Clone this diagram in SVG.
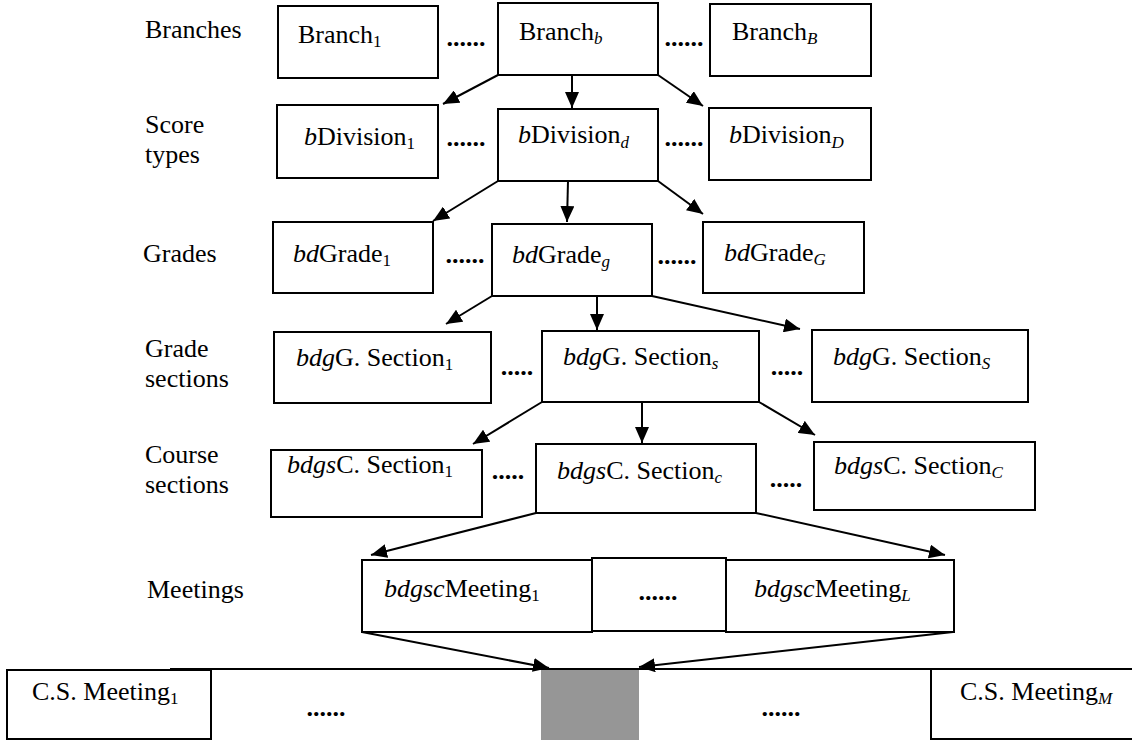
<svg xmlns="http://www.w3.org/2000/svg" width="1132" height="740" viewBox="0 0 1132 740" font-family="'Liberation Serif', Tinos, 'DejaVu Serif', serif">
<style>
text{font-family:"Liberation Serif",Tinos,"DejaVu Serif",serif;font-size:26px;fill:#000}
.sub{font-size:17px}
.i{font-style:italic}
.dots{font-weight:bold}
.box{fill:#fff;stroke:#000;stroke-width:2}
.con line{stroke:#000;stroke-width:2;marker-end:url(#ah)}
</style>
<defs>
<marker id="ah" markerUnits="userSpaceOnUse" markerWidth="16" markerHeight="14" refX="16" refY="7" orient="auto">
<path d="M0,0 L16,7 L0,14 z" fill="#000"/>
</marker>
</defs>
<rect width="1132" height="740" fill="#fff"/>
<g id="labels">
<text x="145" y="38">Branches</text>
<text x="145" y="133">Score</text>
<text x="145" y="163">types</text>
<text x="143" y="262">Grades</text>
<text x="145" y="357">Grade</text>
<text x="145" y="387">sections</text>
<text x="145" y="463">Course</text>
<text x="145" y="493">sections</text>
<text x="147" y="598">Meetings</text>
</g>
<g id="branch1"><rect class="box" x="278" y="6" width="160" height="72"/><text x="298" y="43">Branch<tspan class="sub" dy="4">1</tspan></text></g>
<g id="branchb"><rect class="box" x="498" y="3" width="160" height="72"/><text x="519" y="40">Branch<tspan class="sub i" dy="4">b</tspan></text></g>
<g id="branchB"><rect class="box" x="710" y="4" width="161" height="72"/><text x="732" y="40">Branch<tspan class="sub i" dy="4">B</tspan></text></g>
<g id="div1"><rect class="box" x="277" y="105" width="161" height="73"/><text x="304" y="145"><tspan class="i">b</tspan>Division<tspan class="sub" dy="4">1</tspan></text></g>
<g id="divd"><rect class="box" x="498" y="109" width="160" height="72"/><text x="518" y="143"><tspan class="i">b</tspan>Division<tspan class="sub i" dy="5">d</tspan></text></g>
<g id="divD"><rect class="box" x="709" y="108" width="162" height="72"/><text x="729" y="143"><tspan class="i">b</tspan>Division<tspan class="sub i" dy="5">D</tspan></text></g>
<g id="grade1"><rect class="box" x="273" y="222" width="160" height="71"/><text x="293" y="262"><tspan class="i">bd</tspan>Grade<tspan class="sub" dy="4">1</tspan></text></g>
<g id="gradeg"><rect class="box" x="492" y="224" width="160" height="72"/><text x="512" y="263"><tspan class="i">bd</tspan>Grade<tspan class="sub i" dy="4">g</tspan></text></g>
<g id="gradeG"><rect class="box" x="703" y="222" width="161" height="71"/><text x="724" y="261"><tspan class="i">bd</tspan>Grade<tspan class="sub i" dy="4">G</tspan></text></g>
<g id="gsec1"><rect class="box" x="274" y="332" width="217" height="71"/><text x="296" y="366"><tspan class="i">bdg</tspan>G. Section<tspan class="sub" dy="4">1</tspan></text></g>
<g id="gsecs"><rect class="box" x="542" y="331" width="217" height="71"/><text x="563" y="365"><tspan class="i">bdg</tspan>G. Section<tspan class="sub i" dy="4">s</tspan></text></g>
<g id="gsecS"><rect class="box" x="812" y="330" width="216" height="72"/><text x="833" y="365"><tspan class="i">bdg</tspan>G. Section<tspan class="sub i" dy="4">S</tspan></text></g>
<g id="csec1"><rect class="box" x="271" y="450" width="211" height="67"/><text x="287" y="473"><tspan class="i">bdgs</tspan>C. Section<tspan class="sub" dy="4">1</tspan></text></g>
<g id="csecc"><rect class="box" x="536" y="444" width="220" height="69"/><text x="557" y="479"><tspan class="i">bdgs</tspan>C. Section<tspan class="sub i" dy="4">c</tspan></text></g>
<g id="csecC"><rect class="box" x="814" y="442" width="221" height="68"/><text x="834" y="474"><tspan class="i">bdgs</tspan>C. Section<tspan class="sub i" dy="4">C</tspan></text></g>
<g id="meet1"><rect class="box" x="362" y="560" width="230" height="72"/><text x="384" y="597"><tspan class="i">bdgsc</tspan>Meeting<tspan class="sub" dy="4">1</tspan></text></g>
<g id="meetdots"><rect class="box" x="592" y="558" width="134" height="73"/><text class="dots" x="658" y="600" text-anchor="middle">......</text></g>
<g id="meetL"><rect class="box" x="726" y="560" width="228" height="72"/><text x="754" y="597"><tspan class="i">bdgsc</tspan>Meeting<tspan class="sub i" dy="4">L</tspan></text></g>
<g id="timeline">
<line x1="170" y1="669" x2="1132" y2="669" stroke="#000" stroke-width="2"/>
<text class="dots" x="326" y="716" text-anchor="middle">......</text>
<text class="dots" x="781" y="716" text-anchor="middle">......</text>
</g>
<g id="csm1"><rect class="box" x="7" y="670" width="204" height="69"/><text x="32" y="700">C.S. Meeting<tspan class="sub" dy="4">1</tspan></text></g>
<g id="csmM"><rect class="box" x="931" y="669" width="215" height="70"/><text x="960" y="700">C.S. Meeting<tspan class="sub i" dy="4">M</tspan></text></g>
<g id="current"><rect x="541" y="670" width="98" height="70" fill="#969696"/></g>
<g id="sepdots">
<text class="dots" x="466" y="46" text-anchor="middle">......</text>
<text class="dots" x="684" y="46" text-anchor="middle">......</text>
<text class="dots" x="466" y="146" text-anchor="middle">......</text>
<text class="dots" x="684" y="146" text-anchor="middle">......</text>
<text class="dots" x="465" y="263" text-anchor="middle">......</text>
<text class="dots" x="677" y="264" text-anchor="middle">......</text>
<text class="dots" x="517" y="375" text-anchor="middle">.....</text>
<text class="dots" x="787" y="375" text-anchor="middle">.....</text>
<text class="dots" x="508" y="479" text-anchor="middle">.....</text>
<text class="dots" x="786" y="487" text-anchor="middle">.....</text>
</g>
<g id="connectors" class="con">
<line x1="498" y1="75" x2="443" y2="104"/>
<line x1="572" y1="75" x2="572" y2="108"/>
<line x1="658" y1="75" x2="703" y2="106"/>
<line x1="498" y1="181" x2="433" y2="221"/>
<line x1="568" y1="181" x2="567" y2="222"/>
<line x1="658" y1="181" x2="703" y2="214"/>
<line x1="492" y1="296" x2="446" y2="324"/>
<line x1="597" y1="296" x2="597" y2="330"/>
<line x1="652" y1="296" x2="800" y2="329"/>
<line x1="542" y1="402" x2="473" y2="444"/>
<line x1="642" y1="402" x2="642" y2="443"/>
<line x1="759" y1="402" x2="815" y2="435"/>
<line x1="536" y1="513" x2="371" y2="555"/>
<line x1="756" y1="513" x2="945" y2="555"/>
<line x1="362" y1="632" x2="549" y2="668"/>
<line x1="953" y1="632" x2="639" y2="667"/>
</g>
</svg>
